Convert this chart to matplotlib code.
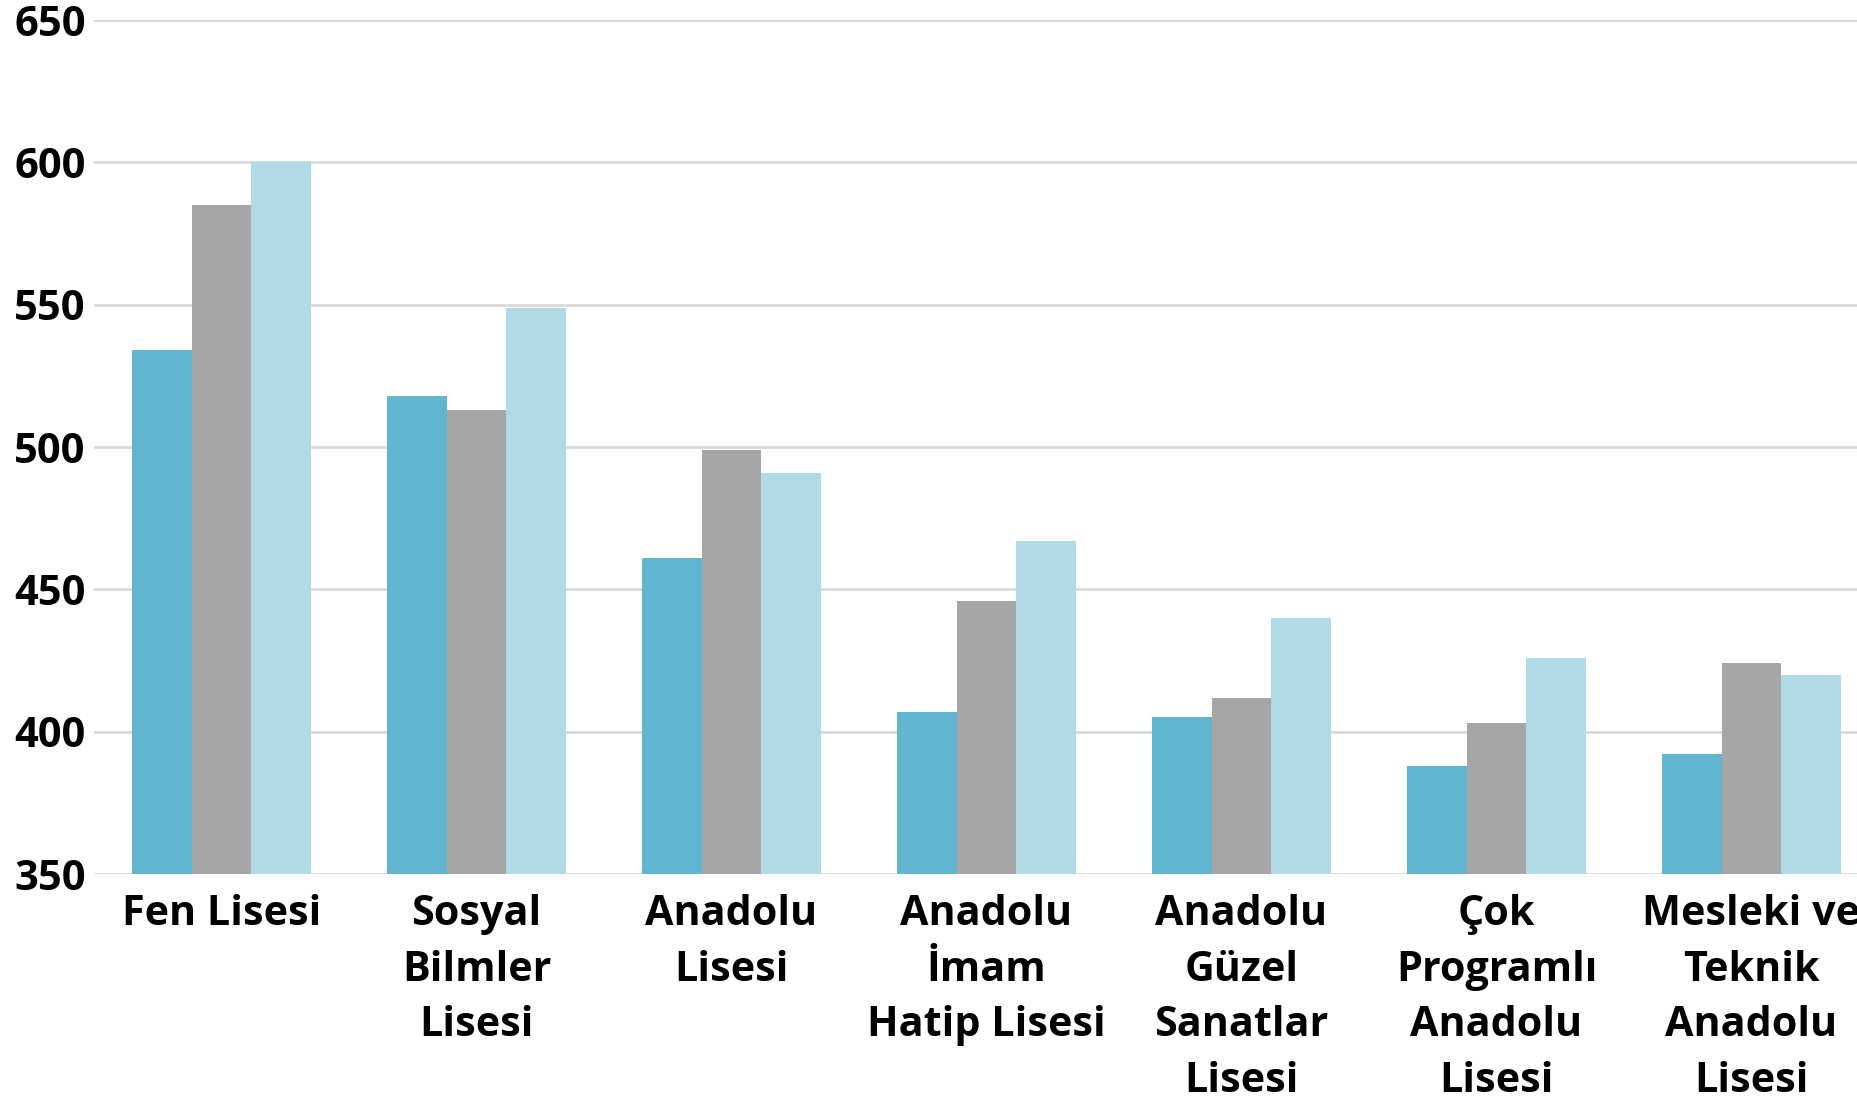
import matplotlib
matplotlib.use("Agg")
import matplotlib.pyplot as plt
from matplotlib import font_manager
import numpy as np

# School types and average placement scores for three consecutive years
categories = [
    "Fen Lisesi",
    "Sosyal\nBilmler\nLisesi",
    "Anadolu\nLisesi",
    "Anadolu\nİmam\nHatip Lisesi",
    "Anadolu\nGüzel\nSanatlar\nLisesi",
    "Çok\nProgramlı\nAnadolu\nLisesi",
    "Mesleki ve\nTeknik\nAnadolu\nLisesi",
]
series_1 = [534, 518, 461, 407, 405, 388, 392]
series_2 = [585, 513, 499, 446, 412, 403, 424]
series_3 = [600, 549, 491, 467, 440, 426, 420]
yticks = [350, 400, 450, 500, 550, 600, 650]

colors = ["#61B5CF", "#A6A6A6", "#B0DAE6"]

# pick the first family that actually ships a bold face
family = "DejaVu Sans"
for cand in ["Noto Sans", "Open Sans", "Lato", "Roboto"]:
    try:
        path = font_manager.findfont(
            font_manager.FontProperties(family=cand, weight="bold"),
            fallback_to_default=False)
    except Exception:
        continue
    if "bold" in path.lower() or "black" in path.lower():
        family = cand
        break

plt.rcParams["font.family"] = [family, "DejaVu Sans"]
plt.rcParams["font.weight"] = "bold"

fig = plt.figure(figsize=(18.58, 11.0), dpi=100)
# axes extends slightly past the right edge of the canvas
ax = fig.add_axes([94 / 1858, 226 / 1100, 1785 / 1858, 854 / 1100])

x = np.arange(len(categories))
w = 0.233
for i, (vals, c) in enumerate(zip([series_1, series_2, series_3], colors)):
    ax.bar(x + (i - 1) * w, np.array(vals) - 350, bottom=350, width=w,
           color=c, zorder=3, linewidth=0)

ax.set_xlim(-0.5, len(categories) - 0.5)
ax.set_ylim(350, 650)
ax.set_yticks(yticks)
ax.set_yticklabels([str(t) for t in yticks], fontsize=30, fontweight="bold")
ax.set_xticks(x)
ax.set_xticklabels(categories, fontsize=29.7, fontweight="bold", linespacing=1.47)
ax.tick_params(axis="both", length=0)
ax.tick_params(axis="y", pad=6)
ax.tick_params(axis="x", pad=14.5)

ax.grid(axis="y", color="#D9D9D9", linewidth=2.0, zorder=0)
for s in ax.spines.values():
    s.set_visible(False)

fig.savefig("out.png", dpi=100)
